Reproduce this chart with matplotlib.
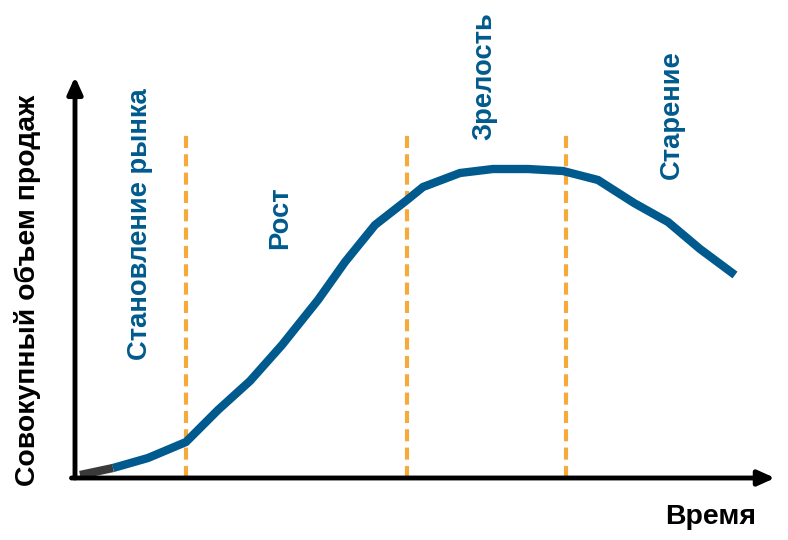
import matplotlib.pyplot as plt

plt.rcParams['font.family'] = ['Liberation Sans', 'DejaVu Sans']

# curve (time, total sales)
time_pts = [5, 38, 73, 111, 143, 175, 207, 243, 270, 300, 332, 348, 385, 418, 453, 488, 523, 559, 593, 625, 660]
sales_pts = [3, 10, 20, 36, 68, 97, 133, 178, 216, 253, 278, 291, 305, 309, 309, 307, 298, 275, 256, 229, 203]
n_gray = 2  # first segment drawn dark grey

stage_bounds = [111, 332, 491]
stage_names = ['Становление рынка', 'Рост', 'Зрелость', 'Старение']
stage_x = [65, 205, 409, 597]
stage_y = [254, 260, 402, 363]

blue = '#005a8d'
orange = '#f5ab3c'

fig = plt.figure(figsize=(7.88, 5.4), dpi=100)
ax = fig.add_axes([75 / 788, 62 / 540, 700 / 788, 398 / 540])
ax.set_xlim(0, 700)
ax.set_ylim(0, 398)
ax.axis('off')

for xb in stage_bounds:
    ax.plot([xb, xb], [0, 346], color=orange, lw=3, dashes=(2.9, 1.5), zorder=1)

ax.plot(time_pts[n_gray - 1:], sales_pts[n_gray - 1:], color=blue, lw=6,
        solid_capstyle='butt', solid_joinstyle='miter', zorder=2)
ax.plot(time_pts[:n_gray], sales_pts[:n_gray], color='#3a3a3a', lw=6,
        solid_capstyle='butt', zorder=3)

# axes with arrows
arrow = dict(arrowstyle='-|>,head_length=1.0,head_width=0.45', color='black', lw=3.5,
             shrinkA=0, shrinkB=0)
ax.annotate('', xy=(0, 1.008), xytext=(0, 0), xycoords='axes fraction', arrowprops=arrow,
            annotation_clip=False)
ax.annotate('', xy=(1.0, 0), xytext=(-0.005, 0), xycoords='axes fraction', arrowprops=arrow,
            annotation_clip=False)

for name, x, y in zip(stage_names, stage_x, stage_y):
    ax.text(x, y, name, rotation=90, ha='center', va='center', color=blue,
            fontsize=19.7, fontweight='bold')

fig.text(28 / 788, 1 - 290 / 540, 'Совокупный объем продаж', rotation=90, ha='center',
         va='center', fontsize=20.4, fontweight='bold')
fig.text(711 / 788, 1 - 517 / 540, 'Время', ha='center', va='center', fontsize=20.4,
         fontweight='bold')

fig.savefig('out.png', dpi=100)
